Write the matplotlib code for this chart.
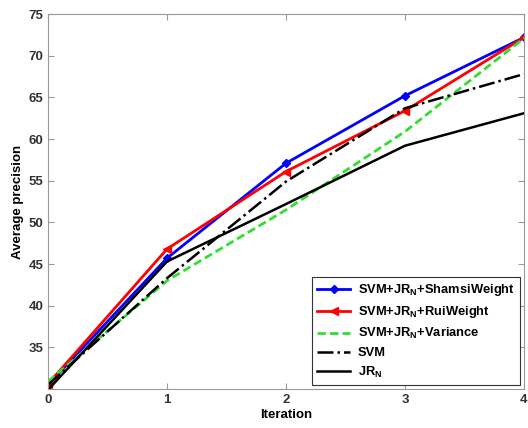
import matplotlib
matplotlib.use("Agg")
import matplotlib.pyplot as plt

# data
iterations = [0, 1, 2, 3, 4]
shamsi = [30.5, 45.7, 57.1, 65.2, 72.2]
rui = [30.6, 46.8, 56.1, 63.4, 72.2]
variance = [30.9, 43.0, 51.5, 60.9, 72.1]
svm = [30.5, 43.3, 54.9, 63.7, 67.8]
jrn = [29.9, 45.3, 52.2, 59.2, 63.1]

x_ticks = [0, 1, 2, 3, 4]
y_ticks = [35, 40, 45, 50, 55, 60, 65, 70, 75]

plt.rcParams['font.family'] = ['Liberation Sans', 'DejaVu Sans']
plt.rcParams['font.weight'] = 'bold'
plt.rcParams['mathtext.fontset'] = 'custom'
plt.rcParams['mathtext.rm'] = 'Liberation Sans:bold'
plt.rcParams['mathtext.bf'] = 'Liberation Sans:bold'

fig = plt.figure(figsize=(5.28, 4.28), dpi=100)
ax = fig.add_axes([0.0909, 0.0911, 0.9015, 0.876])

ax.plot(iterations, shamsi, color='#0000ff', lw=2, marker='D', ms=4.5,
        label=r'SVM+JR$_\mathbf{N}$+ShamsiWeight')
ax.plot(iterations, rui, color='#ff0000', lw=2, marker='<', ms=6,
        label=r'SVM+JR$_\mathbf{N}$+RuiWeight')
ax.plot(iterations, variance, color='#33dd33', lw=2, ls=(0, (3, 1.5)),
        label=r'SVM+JR$_\mathbf{N}$+Variance')
ax.plot(iterations, svm, color='black', lw=1.8, ls='-.',
        label='SVM')
ax.plot(iterations, jrn, color='black', lw=1.8,
        label=r'JR$_\mathbf{N}$')

ax.set_xlim(0, 4)
ax.set_ylim(30, 75)
ax.set_xticks(x_ticks)
ax.set_yticks(y_ticks)
ax.tick_params(direction='in', top=True, right=True, labelsize=9.5,
               color='#999999', labelcolor='#333333', length=4)
for s in ax.spines.values():
    s.set_color('#999999')

ax.set_xlabel('Iteration', fontsize=9.5, fontweight='bold', labelpad=2)
ax.set_ylabel('Average precision', fontsize=9.5, fontweight='bold', labelpad=3)

leg = ax.legend(loc='lower right', fontsize=9.3, fancybox=False,
                edgecolor='#333333', framealpha=1, handlelength=2.6,
                handletextpad=0.6, borderaxespad=0.3, labelspacing=0.45)
leg.get_frame().set_linewidth(0.8)

fig.savefig('out.png', dpi=100)
